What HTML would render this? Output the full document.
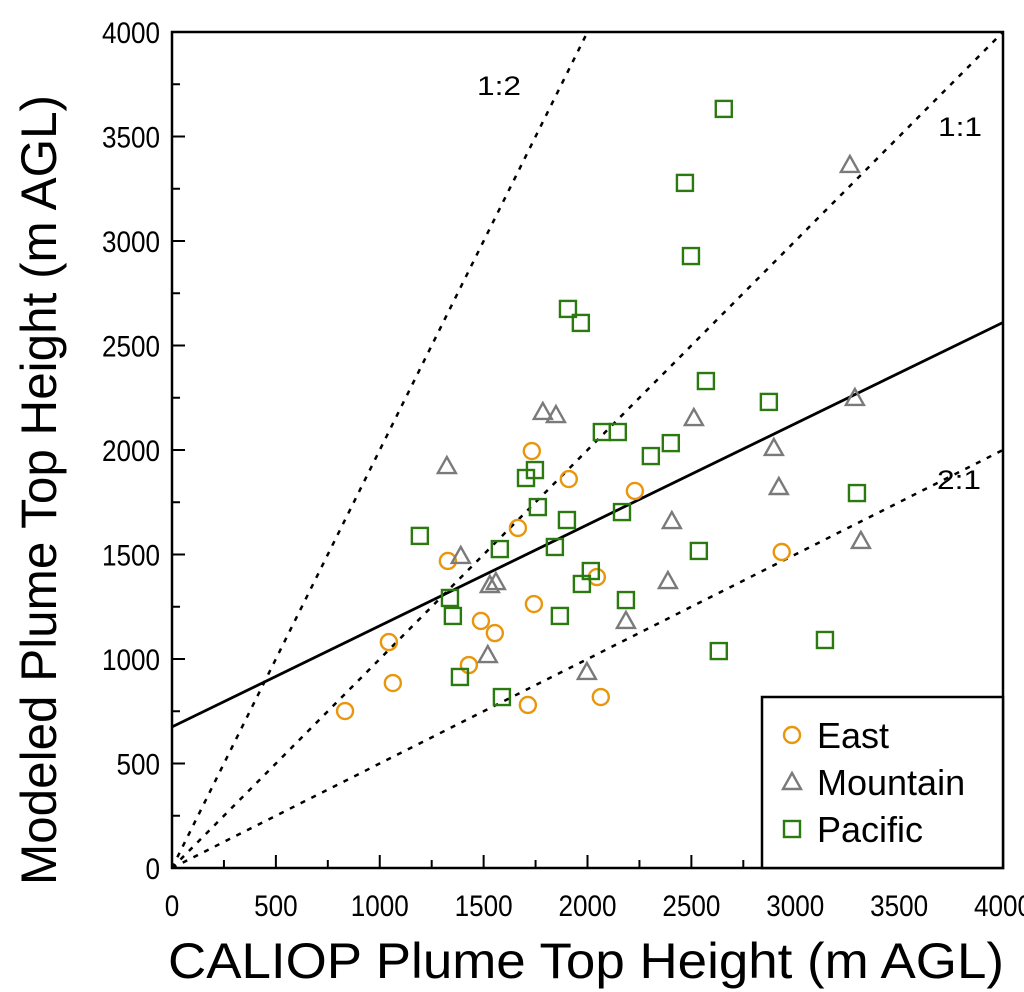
<!DOCTYPE html>
<html><head><meta charset="utf-8"><style>
body{margin:0;background:#fff;}
svg{display:block;font-family:"Liberation Sans",sans-serif;}
</style></head><body>
<svg id="chart" width="1024" height="992" viewBox="0 0 1024 992"></svg>
<script>
const xTicks=[0,500,1000,1500,2000,2500,3000,3500,4000];
const yTicks=[0,500,1000,1500,2000,2500,3000,3500,4000];
const eastX=[833,1044,1063,1328,1429,1487,1554,1732,1665,1742,1713,1910,2045,2064,2228,2935];
const eastY=[751,1081,885,1469,971,1182,1124,1995,1627,1263,780,1861,1392,818,1804,1512];
const mtnX=[1323,1390,1520,1530,1559,1785,1848,1997,2185,2387,2406,2512,2897,2921,3287,3316,3263];
const mtnY=[1923,1493,1019,1354,1368,2182,2167,938,1182,1373,1660,2153,2010,1823,2249,1565,3364];
const pacX=[1193,1338,1352,1386,1578,1588,1704,1747,1761,1843,1867,1901,1906,1968,1973,2016,2069,2146,2166,2185,2305,2401,2536,2469,2498,2656,2570,2873,2632,3143,3297];
const pacY=[1589,1292,1206,914,1526,818,1866,1904,1727,1536,1206,1665,2675,2608,1359,1421,2086,2086,1703,1282,1971,2033,1517,3278,2928,3632,2330,2230,1038,1091,1794];
const fitIntercept=675, fitSlope=0.4838;

const X0=172,X1=1003,Y0=868,Y1=32;
const sx=v=>X0+(v/4000)*(X1-X0);
const sy=v=>Y0-(v/4000)*(Y0-Y1);
const svg=document.getElementById('chart');
const NS='http://www.w3.org/2000/svg';
function mk(t,a,p){const e=document.createElementNS(NS,t);for(const k in a)e.setAttribute(k,a[k]);(p||svg).appendChild(e);return e;}

const clip=mk('clipPath',{id:'pc'});mk('rect',{x:X0,y:Y1,width:X1-X0,height:Y0-Y1},clip);
const ref=mk('g',{'clip-path':'url(#pc)'});


[[2,'line-1-to-2'],[1,'line-1-to-1'],[0.5,'line-2-to-1']].forEach(([m,n])=>{
  const l=mk('line',{x1:sx(0),y1:sy(0),x2:sx(4000),y2:sy(4000*m),stroke:'#000','stroke-width':2.5,'stroke-dasharray':'5,7'},ref);
  
  
});
const fit=mk('line',{x1:sx(0),y1:sy(fitIntercept),x2:sx(4000),y2:sy(fitIntercept+fitSlope*4000),stroke:'#000','stroke-width':2.8},ref);



const ax=mk('g',{});


mk('rect',{x:X0,y:Y1,width:X1-X0,height:Y0-Y1,fill:'none',stroke:'#000','stroke-width':2.5},ax);
for(let v=0;v<=4000;v+=250){
  const L=v%500===0?13:8;
  mk('line',{x1:sx(v),y1:Y0,x2:sx(v),y2:Y0-L,stroke:'#000','stroke-width':2},ax);
  mk('line',{x1:X0,y1:sy(v),x2:X0+L,y2:sy(v),stroke:'#000','stroke-width':2},ax);
}
xTicks.forEach(v=>{const s=String(v);const t=mk('text',{x:sx(v),y:916,'font-size':30,'text-anchor':'middle',textLength:s.length*14.5,lengthAdjust:'spacingAndGlyphs'},ax);t.textContent=s;
  
  });
yTicks.forEach(v=>{const s=String(v);const t=mk('text',{x:160,y:sy(v)+11,'font-size':30,'text-anchor':'end',textLength:s.length*14.5,lengthAdjust:'spacingAndGlyphs'},ax);t.textContent=s;
  
  });
const xt=mk('text',{x:168,y:978,'font-size':50,textLength:836,lengthAdjust:'spacingAndGlyphs'});xt.textContent='CALIOP Plume Top Height (m AGL)';


const yt=mk('text',{x:0,y:0,'font-size':50,textLength:790,lengthAdjust:'spacingAndGlyphs',transform:'translate(56,885) rotate(-90)'});yt.textContent='Modeled Plume Top Height (m AGL)';


[['1:2',477,95,'label-1-to-2'],['1:1',938,136,'label-1-to-1'],['2:1',937,489,'label-2-to-1']].forEach(([s,x,y,n])=>{
  const t=mk('text',{x:x,y:y,'font-size':27,textLength:44,lengthAdjust:'spacingAndGlyphs'});t.textContent=s;
  
  
});

function circ(g,x,y){return mk('circle',{cx:x,cy:y,r:8,fill:'none',stroke:'#e8960c','stroke-width':2.4},g);}
function tri(g,x,y){return mk('polygon',{points:`${x},${y-9} ${x-9},${y+7} ${x+9},${y+7}`,fill:'none',stroke:'#7a7a7a','stroke-width':2.4},g);}
function sq(g,x,y){return mk('rect',{x:x-8,y:y-8,width:16,height:16,fill:'none',stroke:'#2a7a10','stroke-width':2.4},g);}
const ge=mk('g',{});
eastX.forEach((v,i)=>{const e=circ(ge,sx(v),sy(eastY[i]));
  
  });
const gm=mk('g',{});
mtnX.forEach((v,i)=>{const e=tri(gm,sx(v),sy(mtnY[i]));
  
  });
const gp=mk('g',{});
pacX.forEach((v,i)=>{const e=sq(gp,sx(v),sy(pacY[i]));
  
  });

const lg=mk('g',{});
mk('rect',{x:762,y:697,width:241,height:171,fill:'#fff',stroke:'#000','stroke-width':2.5},lg);
[['East',circ,735],['Mountain',tri,782],['Pacific',sq,829]].forEach(([n,f,y])=>{
  f(lg,792,y);
  const t=mk('text',{x:817,y:y+13,'font-size':36},lg);t.textContent=n;
  
  
});
</script>
</body></html>
